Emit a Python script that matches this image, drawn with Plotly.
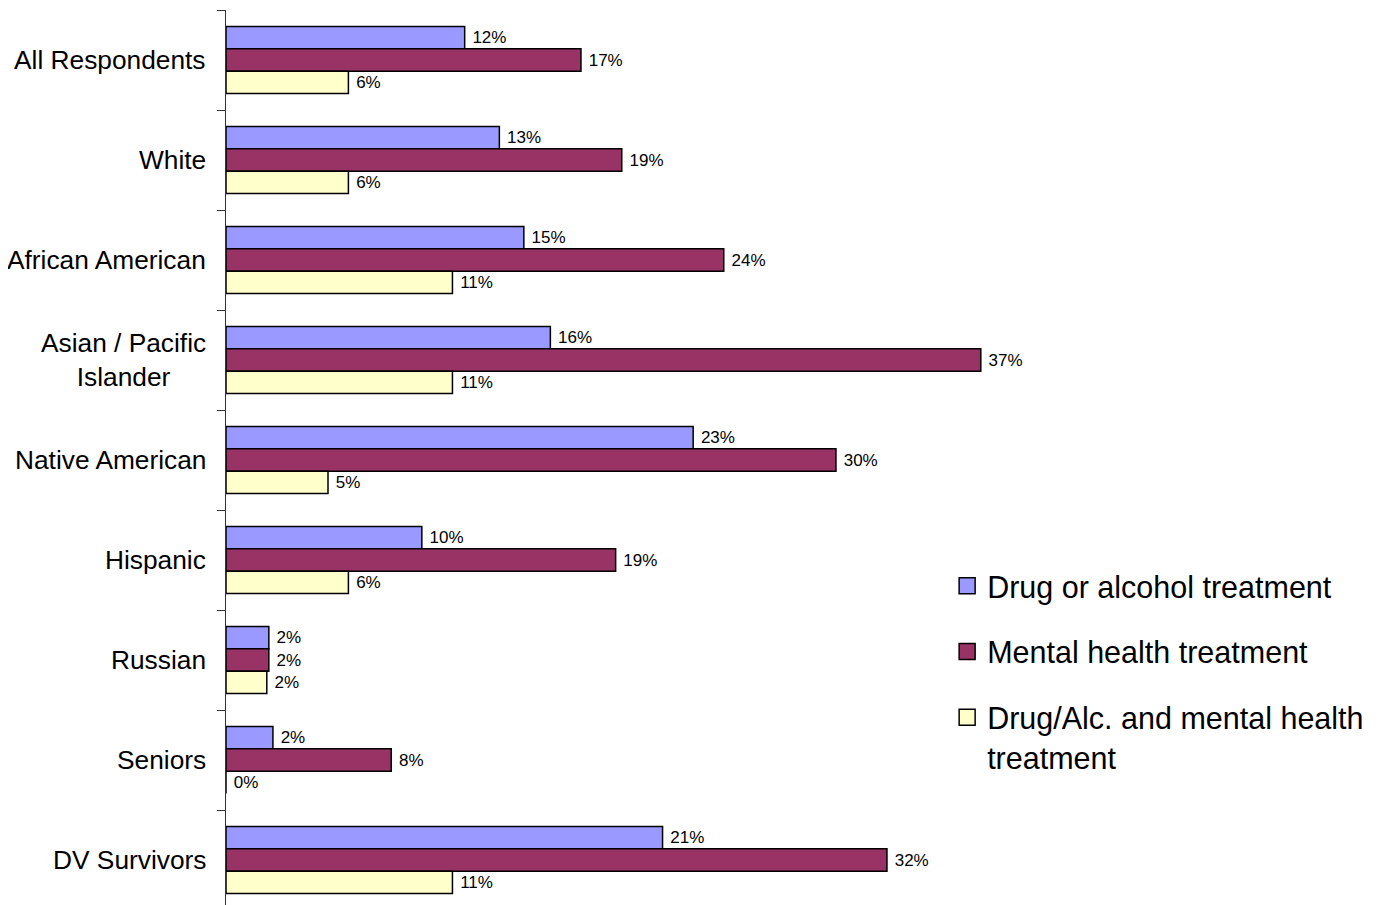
import plotly.graph_objects as go

categories = ["All Respondents", "White", "African American", "Asian / Pacific<br>Islander",
              "Native American", "Hispanic", "Russian", "Seniors", "DV Survivors"]
series_names = ["Drug or alcohol treatment", "Mental health treatment",
                "Drug/Alc. and mental health<br>treatment"]
drug_alcohol = [0.117, 0.134, 0.146, 0.159, 0.229, 0.096, 0.021, 0.023, 0.214]
mental_health = [0.174, 0.194, 0.244, 0.370, 0.299, 0.191, 0.021, 0.081, 0.324]
both = [0.060, 0.060, 0.111, 0.111, 0.050, 0.060, 0.020, 0.0, 0.111]
colors = ["#9999FF", "#993366", "#FFFFCC"]

FONT = "Liberation Sans, Arial, sans-serif"

fig = go.Figure()
for i, (name, vals) in enumerate(zip(series_names, [drug_alcohol, mental_health, both])):
    fig.add_trace(go.Bar(
        y=categories, x=vals, name=name, orientation="h",
        marker=dict(color=colors[i], line=dict(color="black", width=1.5)),
        texttemplate="\u00a0%{x:.0%}", textposition="outside",
        textfont=dict(family=FONT, size=17, color="black"),
        constraintext="none", cliponaxis=False,
        showlegend=False,
    ))
    # legend entry with a larger square swatch
    fig.add_trace(go.Scatter(
        x=[None], y=[None], mode="markers", name=name,
        marker=dict(symbol="square", size=16, color=colors[i], line=dict(color="black", width=1.5)),
        legendgroup=f"g{i}", showlegend=True, hoverinfo="skip",
    ))

for c in categories:
    fig.add_annotation(x=0, xref="paper", xanchor="right", xshift=-18, y=c, yref="y",
                       text=c, showarrow=False, align="center",
                       font=dict(family=FONT, size=26.3, color="black"))

# the page body has an 8px default margin, so the figure is sized 8px smaller
fig.update_layout(
    width=1372, height=897,
    margin=dict(l=218, r=134, t=2, b=0, autoexpand=False),
    paper_bgcolor="white", plot_bgcolor="white",
    barmode="group", bargap=0.33, bargroupgap=0,
    showlegend=True,
    legend=dict(x=0.707, xanchor="left", y=0.386, yanchor="top", valign="top",
                font=dict(family=FONT, size=30.5, color="black"),
                tracegroupgap=23, traceorder="grouped", bgcolor="rgba(0,0,0,0)"),
    font=dict(family=FONT, color="black"),
)
fig.update_xaxes(range=[0, 0.5], showticklabels=False, showgrid=False, zeroline=False,
                 showline=False, automargin=False)
fig.update_yaxes(type="category", categoryorder="array", categoryarray=categories,
                 range=[8.45, -0.5], autorange=False, automargin=False,
                 showline=True, linecolor="#333333", linewidth=1,
                 ticks="outside", ticklen=8, tickcolor="#333333", tickson="boundaries",
                 showticklabels=False, showgrid=False, zeroline=False)

fig.write_html("out.html")
